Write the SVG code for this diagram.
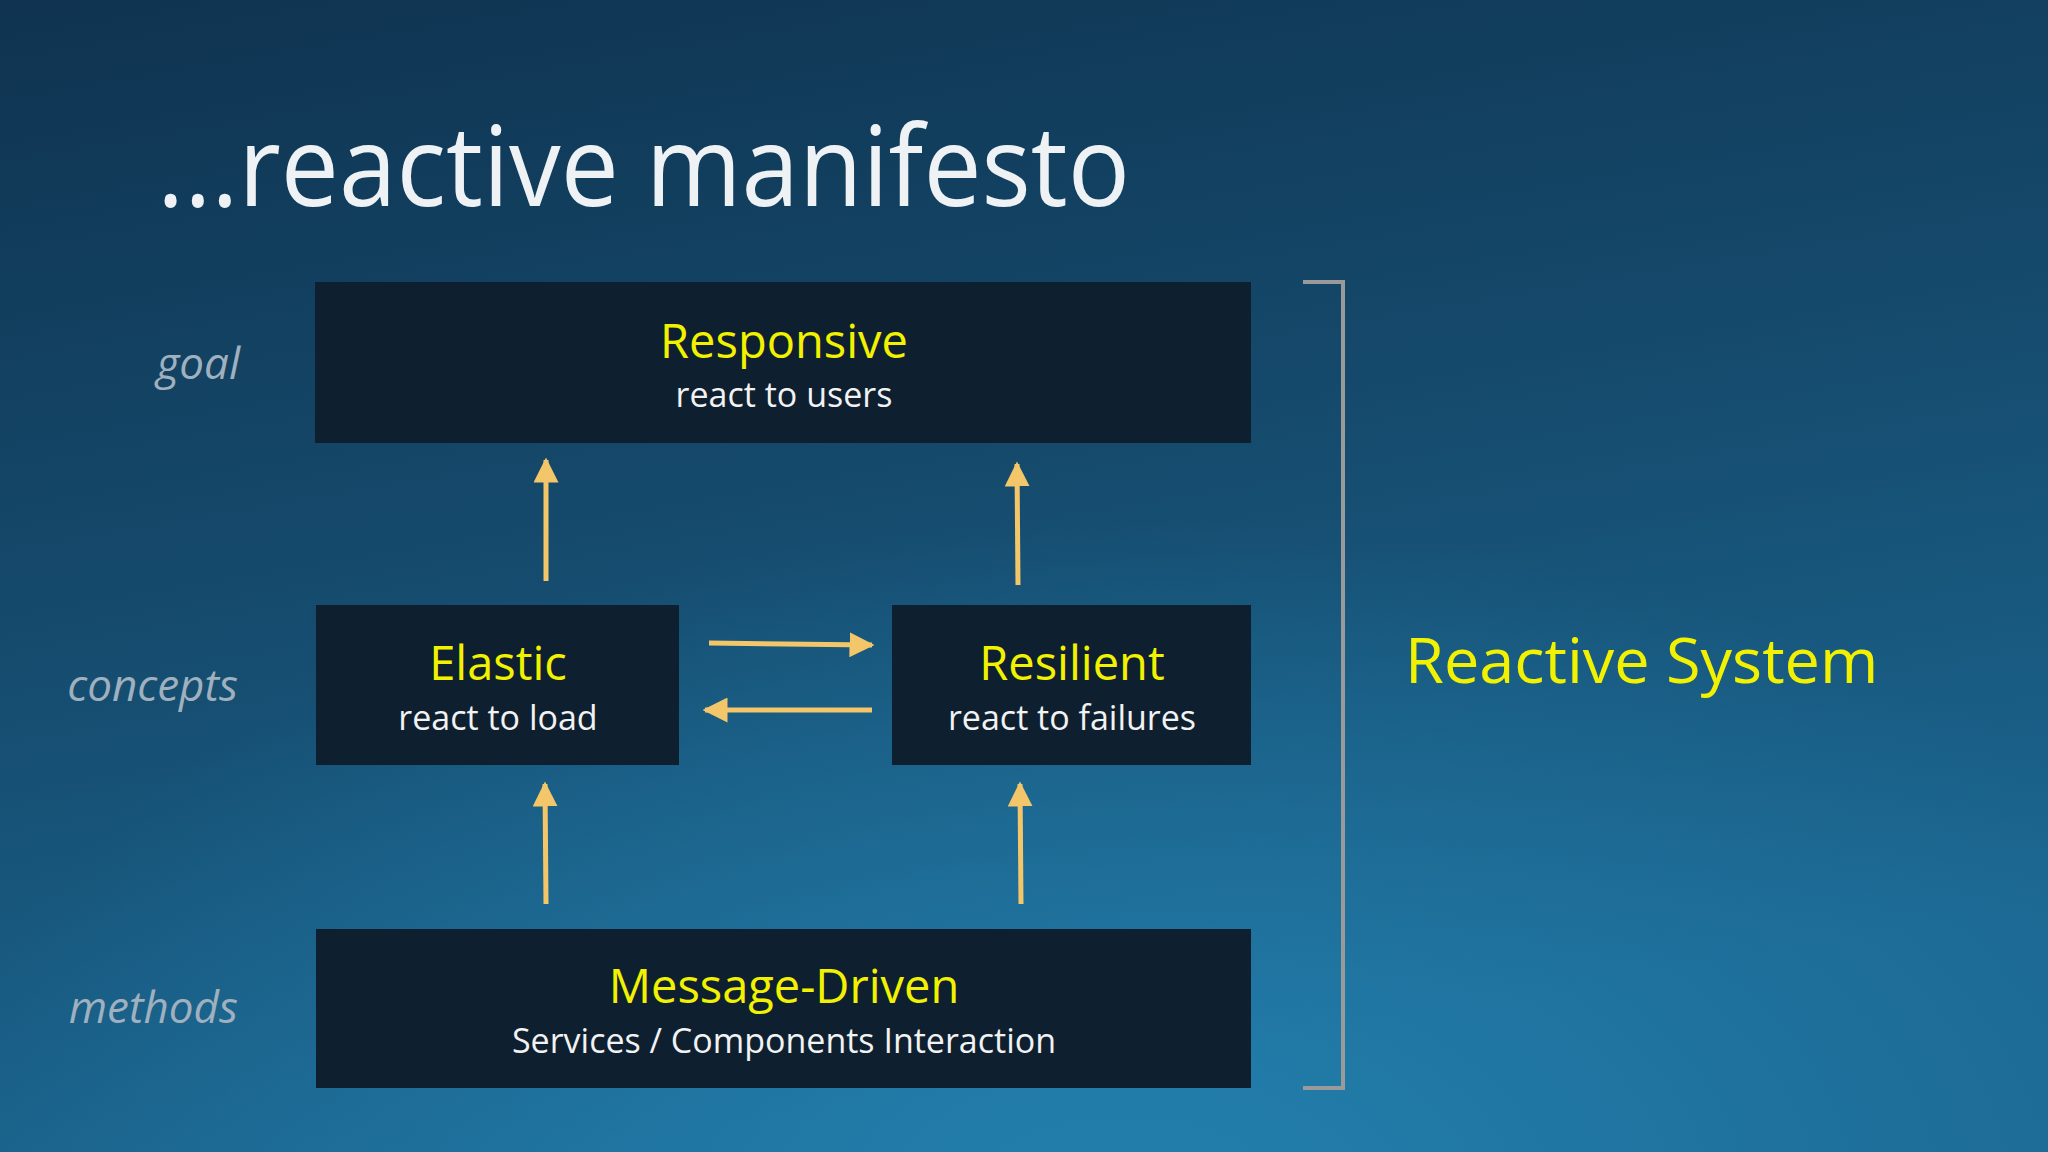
<svg xmlns="http://www.w3.org/2000/svg" width="2048" height="1152" viewBox="0 0 2048 1152">
<defs>
<linearGradient id="bg" x1="0" y1="0" x2="0.3" y2="1">
<stop offset="0" stop-color="#0f3350"/>
<stop offset="0.5" stop-color="#154a6c"/>
<stop offset="1" stop-color="#1b6690"/>
</linearGradient>
<radialGradient id="glow" cx="0.55" cy="1.05" r="0.6">
<stop offset="0" stop-color="#2586b5" stop-opacity="0.8"/>
<stop offset="1" stop-color="#2586b5" stop-opacity="0"/>
</radialGradient>
<marker id="ah" viewBox="0 0 10 10" refX="9" refY="5" markerWidth="5" markerHeight="5" orient="auto" markerUnits="strokeWidth">
<path d="M0,0 L10,5 L0,10 z" fill="#f4c66a"/>
</marker>
<style>
.box{fill:#0e2030}
.t{font-family:"Open Sans","Noto Sans",sans-serif;fill:#f2f200;font-size:47px;text-anchor:middle}
.s{font-family:"Open Sans","Noto Sans",sans-serif;fill:#f2f2f2;font-size:34px;text-anchor:middle}
.l{font-family:"Open Sans","Noto Sans",sans-serif;fill:#9fb0bf;font-size:44px;font-style:italic;text-anchor:end}
.a{stroke:#f4c66a;stroke-width:5;fill:none;marker-end:url(#ah)}
</style>
</defs>
<rect width="2048" height="1152" fill="url(#bg)"/>
<rect width="2048" height="1152" fill="url(#glow)"/>
<text x="157" y="206" font-family="'Open Sans','Noto Sans',sans-serif" font-size="112" fill="#eef2f5" textLength="973" lengthAdjust="spacingAndGlyphs">...reactive manifesto</text>
<g id="labels">
<text class="l" x="240" y="379">goal</text>
<text class="l" x="238" y="701">concepts</text>
<text class="l" x="238" y="1023">methods</text>
</g>
<g id="responsive"><rect class="box" x="315" y="282" width="936" height="161"/>
<text class="t" x="784" y="358">Responsive</text><text class="s" x="784" y="407">react to users</text></g>
<g id="elastic"><rect class="box" x="316" y="605" width="363" height="160"/>
<text class="t" x="498" y="680">Elastic</text><text class="s" x="498" y="730">react to load</text></g>
<g id="resilient"><rect class="box" x="892" y="605" width="359" height="160"/>
<text class="t" x="1072" y="680">Resilient</text><text class="s" x="1072" y="730">react to failures</text></g>
<g id="message"><rect class="box" x="316" y="929" width="935" height="159"/>
<text class="t" x="784" y="1003">Message-Driven</text><text class="s" x="784" y="1053">Services / Components Interaction</text></g>
<g id="connectors">
<line class="a" x1="546" y1="581" x2="546" y2="460"/>
<line class="a" x1="1018" y1="585" x2="1017" y2="464"/>
<line class="a" x1="546" y1="904" x2="545" y2="784"/>
<line class="a" x1="1021" y1="904" x2="1020" y2="784"/>
<line class="a" x1="709" y1="643" x2="872" y2="645"/>
<line class="a" x1="872" y1="710" x2="705" y2="710"/>
</g>
<g id="bracket"><path d="M1303,282 H1343 V1088 H1303" fill="none" stroke="#9a9a9a" stroke-width="4"/></g>
<g id="system"><text x="1405" y="683" font-family="'Open Sans','Noto Sans',sans-serif" font-size="63" fill="#f2f200">Reactive System</text></g>
</svg>
